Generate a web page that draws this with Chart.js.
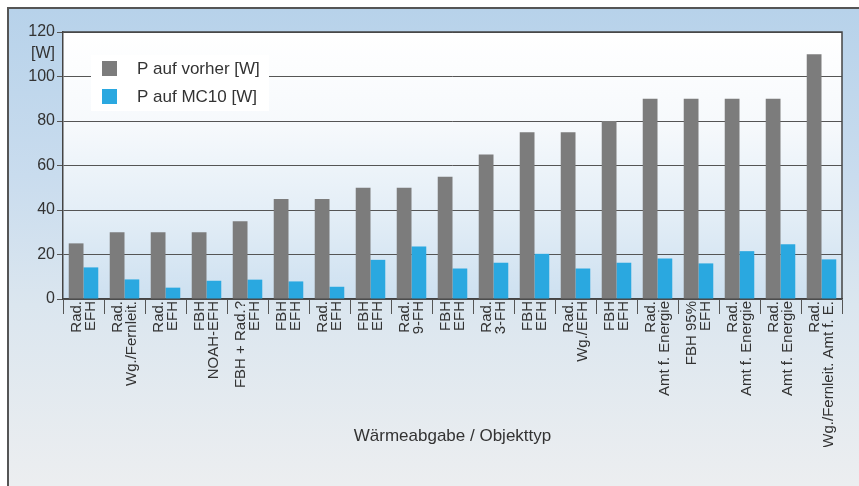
<!DOCTYPE html>
<html>
<head>
<meta charset="utf-8">
<script src="https://cdn.jsdelivr.net/npm/chart.js@4.4.1/dist/chart.umd.min.js"></script>
<style>
  html, body { margin: 0; padding: 0; background: #fff; }
  #frame {
    position: absolute; left: 7px; top: 7px; width: 852px; height: 479px;
    box-sizing: border-box;
    border-left: 2px solid #555; border-top: 2px solid #555;
    background: linear-gradient(to bottom, #b7d2ea 0%, #c9dcee 35%, #dbe6ef 62%, #eceef0 100%);
  }
  #box { position: relative; width: 850px; height: 477px; }
</style>
</head>
<body>
<div id="frame"><div id="box"><canvas id="chart"></canvas></div></div>
<script>
// Categories (two lines each, rotated on the axis)
const categories = [
  ['Rad.', 'EFH'], ['Rad.', 'Wg./Fernleit.'], ['Rad.', 'EFH'], ['FBH', 'NOAH-EFH'],
  ['FBH + Rad.?', 'EFH'], ['FBH', 'EFH'], ['Rad.', 'EFH'], ['FBH', 'EFH'],
  ['Rad.', '9-FH'], ['FBH', 'EFH'], ['Rad.', '3-FH'], ['FBH', 'EFH'],
  ['Rad.', 'Wg./EFH'], ['FBH', 'EFH'], ['Rad.', 'Amt f. Energie'], ['FBH 95%', 'EFH'],
  ['Rad.', 'Amt f. Energie'], ['Rad.', 'Amt f. Energie'], ['Rad.', 'Wg./Fernleit. Amt f. E.']
];

// Series values [W]
const powerBefore = [25, 30, 30, 30, 35, 45, 45, 50, 50, 55, 65, 75, 75, 80, 90, 90, 90, 90, 110];
const powerMC10 = [14.2, 8.8, 5.1, 8.2, 8.7, 7.9, 5.5, 17.6, 23.6, 13.7, 16.3, 20.3, 13.7, 16.3, 18.2, 16.0, 21.5, 24.6, 17.8];

const seriesNames = ['P auf vorher [W]', 'P auf MC10 [W]'];
const unitLabel = '[W]';
const xTitle = 'Wärmeabgabe / Objekttyp';

const FONT = "'Liberation Sans', Arial, sans-serif";
const TEXT = '#333';

// plot background, top/right border, legend and unit label
const decor = {
  id: 'decor',
  beforeDraw(chart) {
    const { ctx, chartArea: a } = chart;
    const g = ctx.createLinearGradient(0, a.top, 0, a.bottom);
    g.addColorStop(0, '#ffffff');
    g.addColorStop(0.35, '#f6f9fc');
    g.addColorStop(0.7, '#e2edf6');
    g.addColorStop(1, '#cde0f0');
    ctx.save();
    ctx.fillStyle = g;
    ctx.fillRect(a.left, a.top, a.right - a.left, a.bottom - a.top);
    ctx.restore();
  },
  afterDraw(chart) {
    const { ctx, chartArea: a } = chart;
    const y = chart.scales.y;
    ctx.save();
    ctx.strokeStyle = '#444';
    ctx.lineWidth = 1.5;
    ctx.beginPath();
    ctx.moveTo(a.left, a.top);
    ctx.lineTo(a.right, a.top);
    ctx.lineTo(a.right, a.bottom);
    ctx.stroke();

    // legend
    ctx.fillStyle = '#fff';
    ctx.fillRect(82, 46, 178, 56);
    const ds = chart.data.datasets;
    ds.forEach((d, i) => {
      ctx.fillStyle = d.backgroundColor;
      ctx.fillRect(93, 52 + i * 28, 15, 15);
      ctx.fillStyle = TEXT;
      ctx.font = '17px ' + FONT;
      ctx.textAlign = 'left';
      ctx.textBaseline = 'middle';
      ctx.fillText(d.label, 128, 60 + i * 28);
    });

    // unit label under 120
    ctx.fillStyle = TEXT;
    ctx.font = '16px ' + FONT;
    ctx.textAlign = 'right';
    ctx.textBaseline = 'middle';
    ctx.fillText(unitLabel, 46, y.getPixelForValue(110.5));
    ctx.restore();
  }
};

new Chart(document.getElementById('chart'), {
  type: 'bar',
  data: {
    labels: categories,
    datasets: [
      { label: seriesNames[0], data: powerBefore, backgroundColor: '#7c7c7c' },
      { label: seriesNames[1], data: powerMC10, backgroundColor: '#2aa8e0' }
    ]
  },
  options: {
    responsive: true,
    maintainAspectRatio: false,
    animation: false,
    layout: { padding: { left: 0, top: 23, right: 17, bottom: 39 } },
    datasets: { bar: { categoryPercentage: 0.72, barPercentage: 1.0 } },
    plugins: { legend: { display: false }, tooltip: { enabled: false } },
    scales: {
      x: {
        afterFit: s => { s.height = 148; },
        grid: { display: true, drawOnChartArea: false, offset: true, tickLength: 15, color: '#555' },
        border: { display: true, color: '#444', width: 1.5 },
        ticks: {
          autoSkip: false, minRotation: 90, maxRotation: 90, padding: -13, labelOffset: -7,
          color: TEXT, font: { family: FONT, size: 15, lineHeight: 0.95 }
        },
        title: {
          display: true, text: xTitle, color: TEXT,
          font: { family: FONT, size: 17 }, padding: { top: 4, bottom: 0 }
        }
      },
      y: {
        min: 0, max: 120,
        afterFit: s => { s.width = 54; },
        grid: { color: '#555', lineWidth: 1, tickLength: 6 },
        border: { display: true, color: '#444', width: 1.5 },
        ticks: { stepSize: 20, padding: 2, color: TEXT, font: { family: FONT, size: 16 } }
      }
    }
  },
  plugins: [decor]
});
</script>
</body>
</html>
